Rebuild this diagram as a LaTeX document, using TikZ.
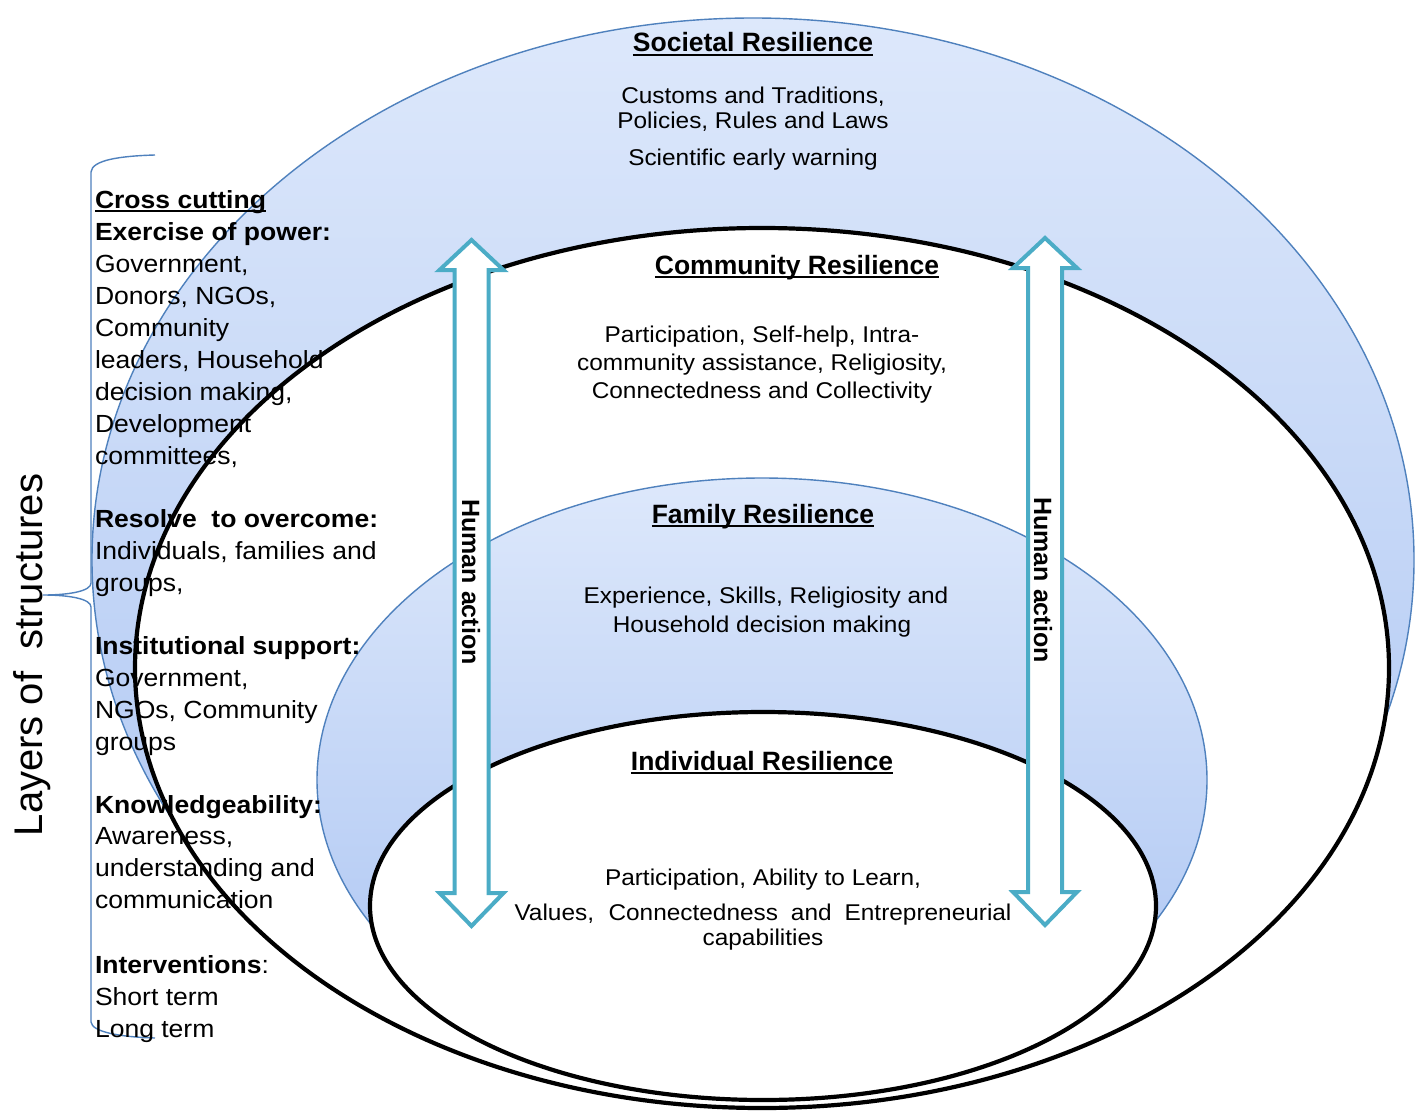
\documentclass[tikz,border=0pt]{standalone}
\usepackage{fontspec}
\setmainfont{Liberation Sans}
\newfontfamily\leftfont[FakeStretch=1.07]{Liberation Sans}
\newfontfamily\midfont[FakeStretch=1.07]{Liberation Sans}
\definecolor{ringblue}{HTML}{4F81BD}
\definecolor{arrowteal}{HTML}{4BACC6}
\definecolor{shadetop}{HTML}{DDE8FB}
\definecolor{shadebot}{HTML}{A9C3F2}
\newcommand\myul[1]{\setbox0=\hbox{#1}\rlap{\rule[-4pt]{\wd0}{1.8pt}}\box0}
\begin{document}
\begin{tikzpicture}[x=1pt,y=-1pt,
  every node/.style={inner sep=0pt, outer sep=0pt},
  ringfill/.style={top color=shadetop, bottom color=shadebot, draw=ringblue, line width=1.4pt},
  whitering/.style={fill=white, draw=black, line width=4.2pt},
  blockarrow/.style={fill=white, draw=arrowteal, line width=4pt, line join=miter},
  title/.style={font=\fontsize{26.5}{30}\selectfont\bfseries, anchor=base},
  midtext/.style={font=\midfont\fontsize{22.8}{26}\selectfont, anchor=base},
  lefttext/.style={font=\leftfont\fontsize{24.8}{28}\selectfont, anchor=base west},
  actiontext/.style={font=\fontsize{25}{30}\selectfont\bfseries, rotate=-90},
  bracestyle/.style={draw=ringblue, line width=1.4pt}
]
\path[use as bounding box, fill=white] (0,0) rectangle (1421,1116);

% rings
\draw[ringfill] (753,560) ellipse [x radius=661pt, y radius=542pt];
\draw[whitering] (762,668) ellipse [x radius=627pt, y radius=440pt];
\draw[ringfill] (762,780) ellipse [x radius=445pt, y radius=302pt];
\draw[whitering] (763,906) ellipse [x radius=393pt, y radius=194pt];

% human action arrows
\draw[blockarrow] (471.5,240) -- (503.5,270) -- (488.5,270) -- (488.5,893) -- (503.5,893) -- (471.5,926) -- (439.5,893) -- (454.5,893) -- (454.5,270) -- (439.5,270) -- cycle;
\draw[blockarrow] (1045,238) -- (1077,268) -- (1062,268) -- (1062,892) -- (1077,892) -- (1045,925) -- (1013,892) -- (1028,892) -- (1028,268) -- (1013,268) -- cycle;
\node[actiontext] (ha1) at (471,582) {Human action};
\node[actiontext] (ha2) at (1043,580) {Human action};

% societal
\node[title] (soc) at (753,52) {\myul{Societal Resilience}};
\node[midtext] (soc1) at (753,103) {Customs and Traditions,};
\node[midtext] (soc2) at (753,128) {Policies, Rules and Laws};
\node[midtext] (soc3) at (753,165) {Scientific early warning};

% community
\node[title] (com) at (797,274) {\myul{Community Resilience}};
\node[midtext] (com1) at (762,342) {Participation, Self-help, Intra-};
\node[midtext] (com2) at (762,370) {community assistance, Religiosity,};
\node[midtext] (com3) at (762,398) {Connectedness and Collectivity};

% family
\node[title] (fam) at (763,523) {\myul{Family Resilience}};
\node[midtext] (fam1) at (766,603) {Experience, Skills, Religiosity and};
\node[midtext] (fam2) at (762,632) {Household decision making};

% individual
\node[title] (ind) at (762,770) {\myul{Individual Resilience}};
\node[midtext] (ind1) at (763,885) {Participation, Ability to Learn,};
\node[midtext] (ind2) at (763,920) {\makebox[497pt][s]{Values, Connectedness and Entrepreneurial}};
\node[midtext] (ind3) at (763,945) {capabilities};

% brace and layers label
\draw[bracestyle] (155,155) .. controls (120,156) and (92,160) .. (91,172) -- (91,583)
  .. controls (91,591) and (70,595) .. (43,595) .. controls (70,595) and (91,599) .. (91,607)
  -- (91,1022) .. controls (92,1032) and (120,1037) .. (155,1038);
\node[font=\fontsize{40}{46}\selectfont, rotate=90, anchor=base] (layers) at (42,655) {Layers of\ \ structures};

% left text
\node[lefttext] (l1) at (95,208) {\bfseries\myul{Cross cutting}};
\node[lefttext] (l2) at (95,240) {\bfseries Exercise of power:};
\node[lefttext] (l3) at (95,272) {Government,};
\node[lefttext] (l4) at (95,304) {Donors, NGOs,};
\node[lefttext] (l5) at (95,336) {Community};
\node[lefttext] (l6) at (95,368) {leaders, Household};
\node[lefttext] (l7) at (95,400) {decision making,};
\node[lefttext] (l8) at (95,432) {Development};
\node[lefttext] (l9) at (95,464) {committees,};
\node[lefttext] (l10) at (95,527) {\bfseries Resolve\ \ to overcome:};
\node[lefttext] (l11) at (95,559) {Individuals, families and};
\node[lefttext] (l12) at (95,591) {groups,};
\node[lefttext] (l13) at (95,654) {\bfseries Institutional support:};
\node[lefttext] (l14) at (95,686) {Government,};
\node[lefttext] (l15) at (95,718) {NGOs, Community};
\node[lefttext] (l16) at (95,750) {groups};
\node[lefttext] (l17) at (95,813) {\bfseries Knowledgeability:};
\node[lefttext] (l18) at (95,844) {Awareness,};
\node[lefttext] (l19) at (95,876) {understanding and};
\node[lefttext] (l20) at (95,908) {communication};
\node[lefttext] (l21) at (95,973) {{\bfseries Interventions}:};
\node[lefttext] (l22) at (95,1005) {Short term};
\node[lefttext] (l23) at (95,1037) {Long term};
\end{tikzpicture}
\end{document}
